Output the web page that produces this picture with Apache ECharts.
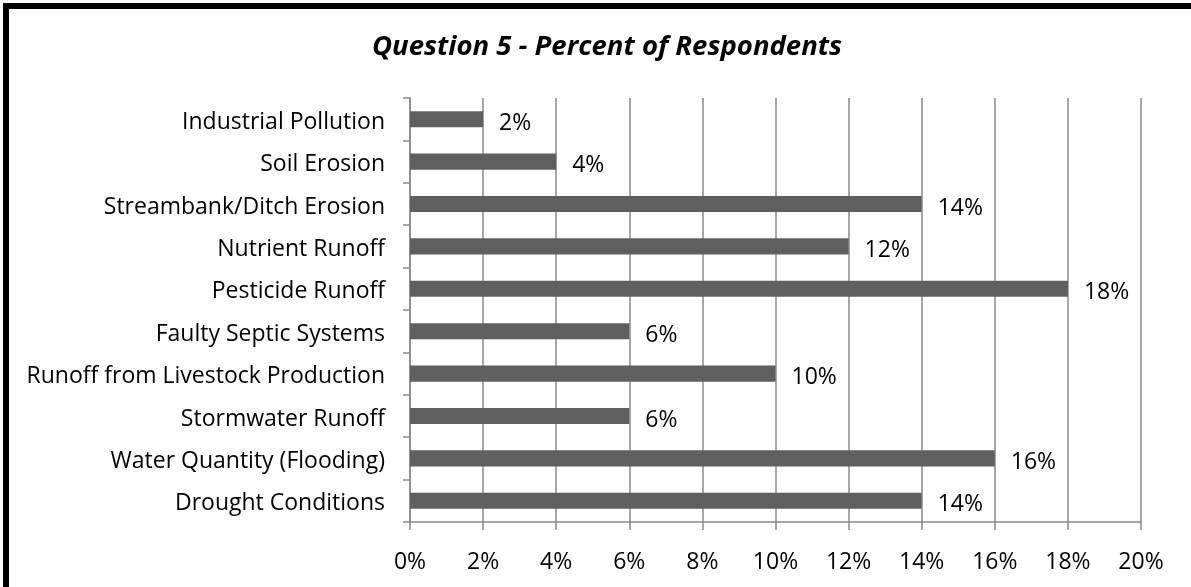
<!DOCTYPE html>
<html><head><meta charset="utf-8">
<script src="https://cdn.jsdelivr.net/npm/echarts@6/dist/echarts.min.js"></script>
<style>html,body{margin:0;padding:0;background:#fff;}#c{width:1191px;height:587px;}</style>
</head><body><div id="c"></div>
<script>
const categories = ["Industrial Pollution","Soil Erosion","Streambank/Ditch Erosion","Nutrient Runoff","Pesticide Runoff","Faulty Septic Systems","Runoff from Livestock Production","Stormwater Runoff","Water Quantity (Flooding)","Drought Conditions"];
const percents = [2,4,14,12,18,6,10,6,16,14];
const titleText = "Question 5 - Percent of Respondents";
const chart = echarts.init(document.getElementById('c'), null, {renderer:'canvas'});
const font = '"Open Sans", sans-serif';
chart.setOption({
  animation:false,
  backgroundColor:'#fff',
  graphic:[{type:'rect',shape:{x:6,y:6,width:1400,height:800},style:{fill:'none',stroke:'#000',lineWidth:6},z:100}],
  title:{text:titleText,left:367,top:29,itemGap:0,textStyle:{fontFamily:font,fontSize:27.5,fontWeight:'bold',fontStyle:'italic',color:'#000'}},
  grid:{left:410,right:50,top:98,bottom:65,containLabel:false},
  xAxis:{type:'value',min:0,max:20,interval:2,
    axisLine:{show:true,lineStyle:{color:'#8a8a8a',width:1.5}},
    axisTick:{show:true,length:8,lineStyle:{color:'#8a8a8a',width:1.5}},
    splitLine:{show:true,lineStyle:{color:'#8a8a8a',width:1.5}},
    axisLabel:{formatter:'{value}%',margin:29,fontFamily:font,fontSize:23,color:'#000'}},
  yAxis:{type:'category',data:categories,inverse:true,
    axisLine:{show:true,lineStyle:{color:'#8a8a8a',width:1.5}},
    axisTick:{show:true,length:7,lineStyle:{color:'#8a8a8a',width:1.5}},
    axisLabel:{margin:25,color:'#000',formatter:v=>'{a|'+v+'}',
      rich:{a:{fontFamily:font,fontSize:23,color:'#000',padding:[6,0,0,0]}}}},
  series:[{type:'bar',data:percents,barWidth:'38%',itemStyle:{color:'#5f5f5f'},
    label:{show:true,position:'right',distance:16,offset:[0,4],formatter:'{c}%',fontFamily:font,fontSize:23,color:'#000'}}]
});
</script></body></html>
